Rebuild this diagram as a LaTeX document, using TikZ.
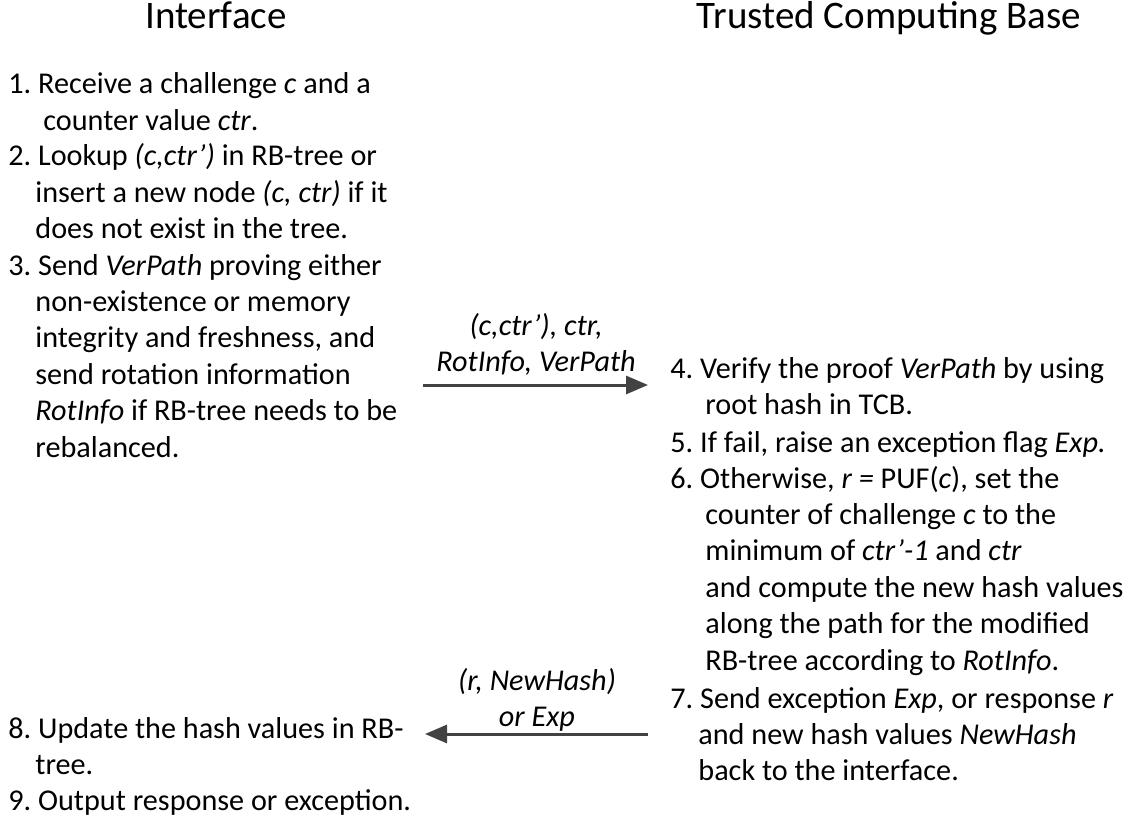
\documentclass[tikz,border=0pt]{standalone}
\usepackage{fontspec}
\setmainfont{Carlito}
\usetikzlibrary{arrows.meta}

\tikzset{
  headnode/.style={font=\fontsize{19.5}{23}\selectfont, anchor=base, inner sep=0pt},
  stepnode/.style={font=\fontsize{15.1}{18.2}\selectfont\frenchspacing, text width=300pt, align=flush left, anchor=base west, inner sep=0pt},
  msglabel/.style={font=\fontsize{15.1}{18.4}\selectfont\itshape, text width=110pt, align=flush center, anchor=base, inner sep=0pt},
  msg/.style={draw=black!74, line width=1.5pt, -{Triangle[length=11pt,width=9pt]}}
}

\begin{document}
\begin{tikzpicture}[x=0.5pt,y=-0.5pt]
\useasboundingbox (0,0) rectangle (1138,818);
\node[headnode] (iface) at (216,29) {Interface};
\node[headnode] (tcb) at (889,29) {Trusted Computing Base};

\node[stepnode] (s1) at (8,94) {1. Receive a challenge \textit{c} and a\\
  \hspace*{17.5pt}counter value \textit{ctr}.};
\node[stepnode] (s2) at (8,166) {2. Lookup \textit{(c,ctr’)} in RB-tree or\\
  \hspace*{13.5pt}insert a new node \textit{(c, ctr)} if it\\
  \hspace*{13.5pt}does not exist in the tree.};
\node[stepnode] (s3) at (8,275) {3. Send \textit{VerPath} proving either\\
  \hspace*{13.5pt}non-existence or memory\\
  \hspace*{13.5pt}integrity and freshness, and\\
  \hspace*{13.5pt}send rotation information\\
  \hspace*{13.5pt}\textit{RotInfo} if RB-tree needs to be\\
  \hspace*{13.5pt}rebalanced.};

\node[stepnode] (s4) at (670,378) {4. Verify the proof \textit{VerPath} by using\\
  \hspace*{17.5pt}root hash in TCB.};
\node[stepnode] (s5) at (670,452) {5. If fail, raise an exception flag \textit{Exp.}};
\node[stepnode] (s6) at (670,488) {6. Otherwise, \textit{r =} PUF(\textit{c}), set the\\
  \hspace*{17.5pt}counter of challenge \textit{c} to the\\
  \hspace*{17.5pt}minimum of \textit{ctr’-1} and \textit{ctr}\\
  \hspace*{17.5pt}and compute the new hash values\\
  \hspace*{17.5pt}along the path for the modified\\
  \hspace*{17.5pt}RB-tree according to \textit{RotInfo}.};
\node[stepnode] (s7) at (670,708) {7. Send exception \textit{Exp}, or response \textit{r}\\
  \hspace*{14pt}and new hash values \textit{NewHash}\\
  \hspace*{14pt}back to the interface.};

\node[stepnode] (s8) at (8,738) {8. Update the hash values in RB-\\
  \hspace*{13.5pt}tree.};
\node[stepnode] (s9) at (8,810) {9. Output response or exception.};

\coordinate (req) at (423,385);
\coordinate (reqend) at (648,385);
\coordinate (res) at (648,734);
\coordinate (resend) at (425,734);
\draw[msg] (req) -- (reqend);
\draw[msg] (res) -- (resend);
\node[msglabel] (m1) at (536,335) {(c,ctr’), ctr,\\ RotInfo, VerPath};
\node[msglabel] (m2) at (537,690) {(r, NewHash)\\ or Exp};
\end{tikzpicture}
\end{document}
